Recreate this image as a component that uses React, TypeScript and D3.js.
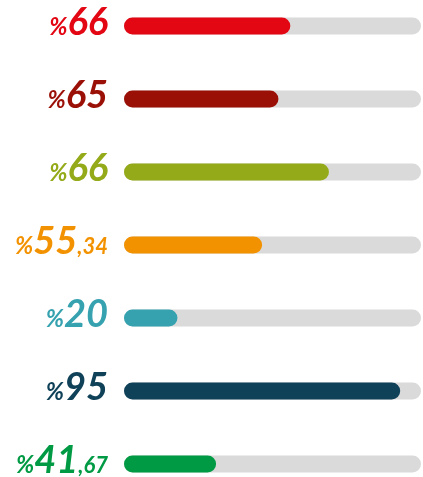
import React from 'react';
import * as d3 from 'd3';

const labelInts = ['66', '65', '66', '55', '20', '95', '41'];
const labelDecimals = ['', '', '', ',34', '', '', ',67'];
const fillValues = [56, 52, 69, 46.5, 18, 93, 31];
const colors = ['#e30613', '#9b1006', '#94aa18', '#f39200', '#36a2b0', '#0f4159', '#009a44'];

const W = 423;
const H = 477;

const App: React.FC = () => {
  const trackLeft = 124;
  const trackRight = 421;
  const barH = 17;

  const y = d3.scalePoint<number>()
    .domain(d3.range(labelInts.length))
    .range([26, 464]);

  const x = d3.scaleLinear()
    .domain([0, 100])
    .range([trackLeft, trackRight]);

  return (
    <svg width={W} height={H} style={{ position: 'fixed', left: 0, top: 0 }}>
      {labelInts.map((v, i) => {
        const cy = y(i) || 0;
        return (
          <g key={i}>
            {/* grey track */}
            <rect
              x={x(0)}
              y={cy - barH / 2}
              width={x(100) - x(0)}
              height={barH}
              rx={barH / 2}
              fill="#dadada"
            />
            {/* filled part */}
            <rect
              x={x(0)}
              y={cy - barH / 2}
              width={x(fillValues[i]) - x(0)}
              height={barH}
              rx={barH / 2}
              fill={colors[i]}
            />
            <text
              x={108}
              y={cy + 9}
              textAnchor="end"
              fill={colors[i]}
              style={{ fontFamily: 'Lato', fontStyle: 'italic', fontWeight: 700 }}
            >
              <tspan fontSize={24}>%</tspan>
              <tspan fontSize={38}>{v}</tspan>
              {labelDecimals[i] && <tspan fontSize={22}>{labelDecimals[i]}</tspan>}
            </text>
          </g>
        );
      })}
    </svg>
  );
};

export default App;
